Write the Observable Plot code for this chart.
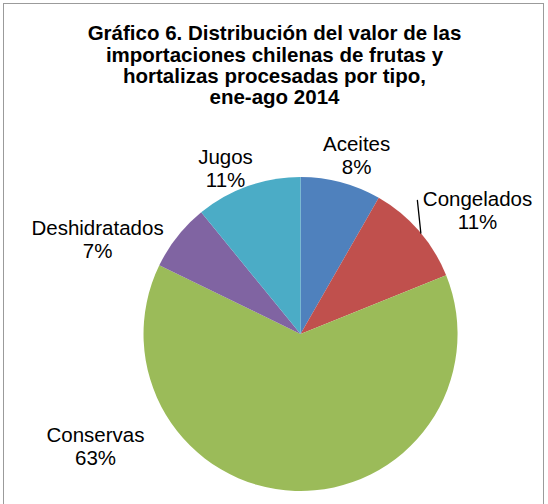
<!DOCTYPE html>
<html>
<head>
<meta charset="utf-8">
<script src="https://cdn.jsdelivr.net/npm/d3@7"></script>
<script src="https://cdn.jsdelivr.net/npm/@observablehq/plot@0.6"></script>
<style>
  html, body { margin: 0; padding: 0; background: #fff; overflow: hidden; width: 548px; height: 504px; }
  #wrap { position: relative; width: 548px; height: 504px; overflow: hidden; }
  #frame { position: absolute; left: 3px; top: 3px; width: 541px; height: 530px; border: 1.5px solid #9b9b9b; box-sizing: border-box; }
  #chart { position: absolute; left: 0; top: 0; }
</style>
</head>
<body>
<div id="wrap"><div id="frame"></div><div id="chart"></div></div>
<script>
// ---- data ----
const titleText = "Gráfico 6. Distribución del valor de las\nimportaciones chilenas de frutas y\nhortalizas procesadas por tipo,\nene-ago 2014";
const categories = ["Aceites", "Congelados", "Conservas", "Deshidratados", "Jugos"];
const shares = [8.3, 10.6, 63.3, 6.9, 10.9];   // % of import value
const sliceColors = ["#4F81BD", "#C0504D", "#9BBB59", "#8064A2", "#4BACC6"];

// ---- layout (label anchors in pie-radius units, origin = pie centre) ----
const labelX = [0.354, 1.124, -1.309, -1.296, -0.481];
const labelY = [1.140, 0.790, -0.712, 0.605, 1.057];
const leaderX = [0.741, 0.763]; // Congelados leader line
const leaderY = [0.854, 0.645];

const rows = categories.map((c, i) => ({
  category: c,
  share: shares[i],
  label: `${c}\n${Math.round(shares[i])}%`,
  lx: labelX[i],
  ly: labelY[i]
}));
const leaderPts = leaderX.map((x, i) => ({x, y: leaderY[i]}));

const colorScale = Plot.scale({color: {type: "ordinal", domain: categories, range: sliceColors}});

// Pie slices drawn with d3.arc through Plot's x/y scales
function pieMark(index, scales) {
  const x = scales.x, y = scales.y;
  const cx = x(0), cy = y(0);
  const r = x(1) - x(0);
  const color = scales.color ? scales.color : (d) => colorScale.apply(d);
  const arcs = d3.pie().sort(null).value(d => d.share)(rows);
  const arc = d3.arc().innerRadius(0).outerRadius(r);
  const g = d3.create("svg:g").attr("transform", `translate(${cx},${cy})`);
  g.selectAll("path")
    .data(arcs)
    .join("path")
    .attr("d", arc)
    .attr("fill", d => color(d.data.category));
  return g.node();
}

const W = 548, H = 504;
const plot = Plot.plot({
  width: W,
  height: H,
  margin: 0,
  x: {domain: [-1.914, 1.576], axis: null},
  y: {domain: [-1.083, 2.127], axis: null},
  color: {domain: categories, range: sliceColors},
  style: {fontFamily: "'Liberation Sans', Arial, sans-serif", background: "transparent", color: "#000"},
  marks: [
    pieMark,
    Plot.line(leaderPts, {x: "x", y: "y", stroke: "#000", strokeWidth: 1.3}),
    Plot.text(rows, {x: "lx", y: "ly", text: "label", fontSize: 20.5, lineHeight: 1.1, fill: "#000", textAnchor: "middle", lineAnchor: "middle"}),
    Plot.text([titleText], {frameAnchor: "top", lineAnchor: "top", dy: 24.8, fontSize: 20.5, fontWeight: "bold", lineHeight: 1.04, fill: "#000"})
  ]
});
document.getElementById("chart").appendChild(plot);
</script>
</body>
</html>
